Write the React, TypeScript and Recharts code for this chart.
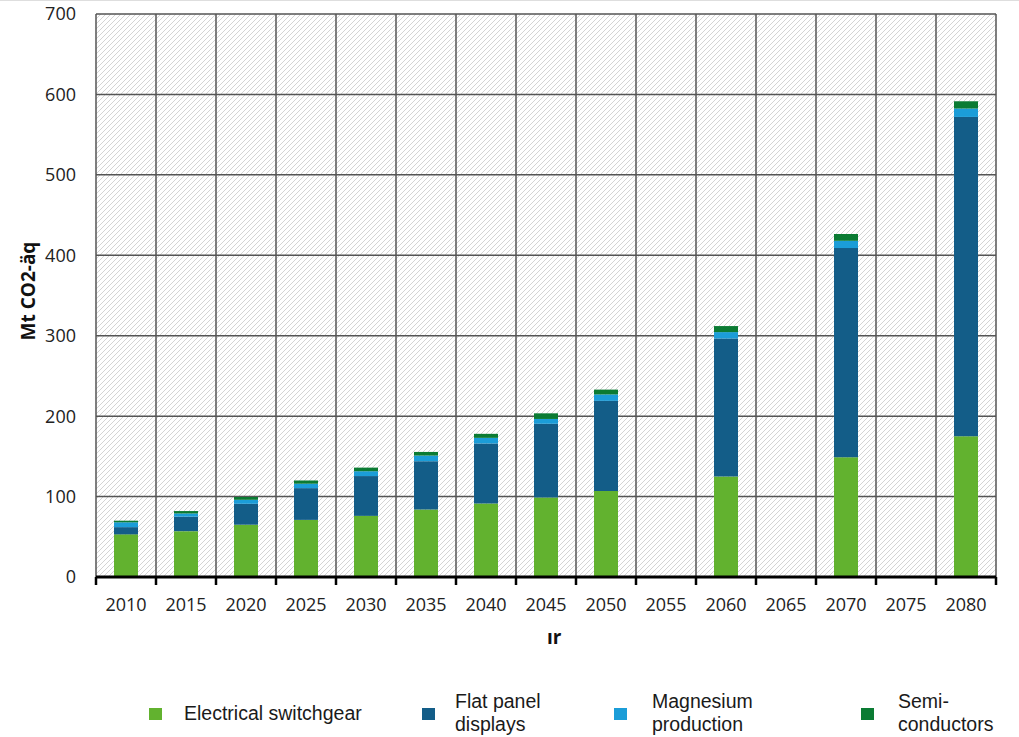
import React from 'react';
import { BarChart, Bar, XAxis, YAxis, CartesianGrid } from 'recharts';

// ---- data (Mt CO2-äq per source) ----
const years = ['2010', '2015', '2020', '2025', '2030', '2035', '2040', '2045', '2050', '2055', '2060', '2065', '2070', '2075', '2080'];
const switchgear = [53, 57, 65, 71, 76, 84, 91.5, 99, 107, null, 125, null, 149, null, 175];
const flatPanel = [9, 18, 26, 39.5, 49.5, 60, 74.5, 91.5, 112, null, 171.5, null, 260, null, 397];
const magnesium = [6, 4, 5, 5.5, 6, 7, 7, 6, 8, null, 8, null, 9, null, 10.5];
const semiconductors = [2, 3, 3.5, 4, 4.5, 4.5, 5, 7, 6, null, 7.5, null, 8.5, null, 9];
const yTicks = [0, 100, 200, 300, 400, 500, 600, 700];

const seriesNames = ['Electrical switchgear', 'Flat panel\ndisplays', 'Magnesium\nproduction', 'Semi-\nconductors'];

const COLORS = {
  switchgear: '#62B22F',
  flatPanel: '#135D88',
  magnesium: '#1B9DD8',
  semi: '#0B7B33',
  grid: '#555555',
  text: '#222222',
};

const data = years.map((year, i) => ({
  year,
  switchgear: switchgear[i],
  flatPanel: flatPanel[i],
  magnesium: magnesium[i],
  semiconductors: semiconductors[i],
}));

const CHART_W = 1019;
const CHART_H = 737;
const MARGIN = { top: 14, right: 23, left: 0, bottom: 120 };
const Y_AXIS_W = 96;
const BAND = (CHART_W - MARGIN.left - MARGIN.right - Y_AXIS_W) / years.length;

// vertical grid lines sit on the category boundaries, not the centres
const boundaryLines = ({ offset }: any) =>
  Array.from({ length: years.length + 1 }, (_, i) => offset.left + i * (offset.width / years.length));

const YearTick = ({ x, y, payload, index }: any) => (
  <g>
    <line x1={x - BAND / 2} x2={x - BAND / 2} y1={y} y2={y + 8} stroke="#000" strokeWidth={2.5} />
    {index === years.length - 1 && (
      <line x1={x + BAND / 2} x2={x + BAND / 2} y1={y} y2={y + 8} stroke="#000" strokeWidth={2.5} />
    )}
    <text x={x} y={y + 34} textAnchor="middle" fontFamily="Open Sans" fontSize={18} fill={COLORS.text}>
      {payload.value}
    </text>
  </g>
);

const legendItems = [
  { color: COLORS.switchgear, sq: 149, tx: 184 },
  { color: COLORS.flatPanel, sq: 422, tx: 455 },
  { color: COLORS.magnesium, sq: 614, tx: 652 },
  { color: COLORS.semi, sq: 861, tx: 898 },
];

const CustomLegend = () => (
  <>
    {legendItems.map((item, i) => {
      const lines = seriesNames[i].split('\n');
      return (
        <React.Fragment key={i}>
          <div
            style={{
              position: 'absolute',
              left: item.sq,
              top: 707,
              width: 13,
              height: 12,
              backgroundColor: item.color,
            }}
          />
          <div
            style={{
              position: 'absolute',
              left: item.tx,
              top: lines.length > 1 ? 689 : 701,
              fontFamily: 'Liberation Sans',
              fontSize: 19.5,
              lineHeight: '23px',
              color: '#1a1a1a',
              whiteSpace: 'nowrap',
            }}
          >
            {lines.map((l, j) => (
              <div key={j}>{l}</div>
            ))}
          </div>
        </React.Fragment>
      );
    })}
  </>
);

export default function App() {
  return (
    <div
      style={{
        position: 'absolute',
        left: 0,
        top: 0,
        width: CHART_W,
        height: CHART_H,
        background: '#fff',
        borderTop: '1px solid #dedede',
        boxSizing: 'border-box',
      }}
    >
      <div style={{ position: 'absolute', left: 0, top: -1 }}>
        <BarChart width={CHART_W} height={CHART_H} data={data} margin={MARGIN} barSize={24}>
          <defs>
            <pattern id="hatch" patternUnits="userSpaceOnUse" width="5" height="5">
              <rect width="5" height="5" fill="#ffffff" />
              <path d="M-1,1 l2,-2 M0,5 l5,-5 M4,6 l2,-2" stroke="#d4d4d4" strokeWidth={1} />
            </pattern>
          </defs>

          <CartesianGrid
            fill="url(#hatch)"
            fillOpacity={1}
            stroke={COLORS.grid}
            strokeWidth={1.5}
            verticalCoordinatesGenerator={boundaryLines}
          />

          <XAxis
            dataKey="year"
            interval={0}
            tickSize={0}
            tickMargin={0}
            height={40}
            axisLine={{ stroke: '#000', strokeWidth: 3 }}
            tick={<YearTick />}
          />

          <YAxis
            width={Y_AXIS_W}
            domain={[0, 700]}
            ticks={yTicks}
            interval={0}
            axisLine={false}
            tickLine={false}
            tickSize={0}
            tickMargin={20}
            tick={{ fontFamily: 'Open Sans', fontSize: 18, fill: COLORS.text }}
          />

          <Bar dataKey="switchgear" stackId="a" fill={COLORS.switchgear} isAnimationActive={false} />
          <Bar dataKey="flatPanel" stackId="a" fill={COLORS.flatPanel} isAnimationActive={false} />
          <Bar dataKey="magnesium" stackId="a" fill={COLORS.magnesium} isAnimationActive={false} />
          <Bar dataKey="semiconductors" stackId="a" fill={COLORS.semi} isAnimationActive={false} />
        </BarChart>
      </div>

      {/* Y axis title */}
      <div
        style={{
          position: 'absolute',
          left: 28,
          top: 290,
          transform: 'translate(-50%, -50%) rotate(-90deg)',
          fontFamily: 'Open Sans',
          fontWeight: 700,
          fontSize: 19,
          color: '#111',
          whiteSpace: 'nowrap',
        }}
      >
        Mt CO2-äq
      </div>

      {/* X axis title, cut off in the source */}
      <div
        style={{
          position: 'absolute',
          left: 547,
          top: 623,
          fontFamily: 'Open Sans',
          fontWeight: 700,
          fontSize: 19,
          color: '#111',
        }}
      >
        ır
      </div>

      <CustomLegend />
    </div>
  );
}
